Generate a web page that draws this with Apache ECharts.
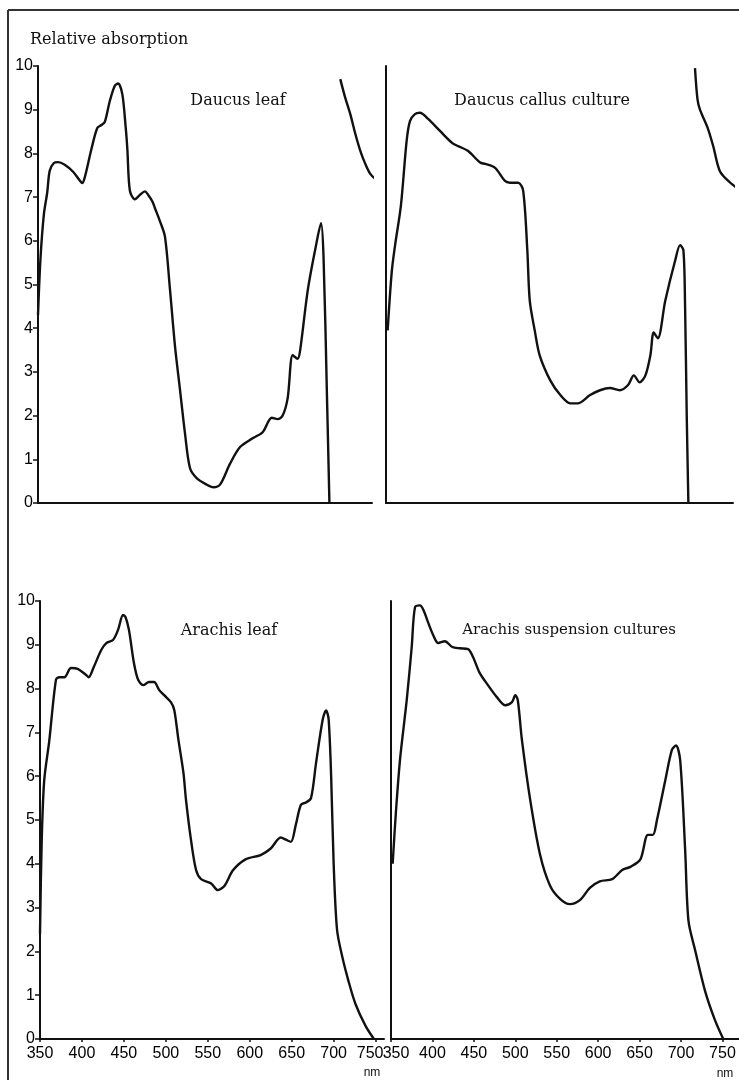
<!DOCTYPE html>
<html><head><meta charset="utf-8">
<script src="https://cdn.jsdelivr.net/npm/echarts@6/dist/echarts.min.js"></script>
<style>html,body{margin:0;padding:0;background:#fff}#c{width:739px;height:1080px}</style>
</head><body><div id="c"></div>
<script>
// ---- tick labels ----
const yTicks = [0,1,2,3,4,5,6,7,8,9,10];
const xTicks = [350,400,450,500,550,600,650,700,750];

// ---- panel titles ----
const panelTitles = ["Daucus leaf","Daucus callus culture","Arachis leaf","Arachis suspension cultures"];
const yTitle = "Relative absorption";
const xUnit = "nm";

// ---- Daucus leaf ----
const daucusLeafNm  = [350,353,357,361,364,369,374,382,392,400,403,406,414,421,426,430,436,442,446,451,455,457,460,466,472,478,482,487,490,496,502,508,514,520,526,532,540,552,560,568,580,592,607,619,630,637,643,649,655,661,664,673,682,689,692,696,699];
const daucusLeafVal = [4.3,5.6,6.6,7.1,7.6,7.78,7.8,7.74,7.58,7.38,7.32,7.45,8.1,8.58,8.65,8.72,9.2,9.55,9.6,9.35,8.6,8.1,7.15,6.95,7.05,7.13,7.05,6.9,6.75,6.45,6.1,4.9,3.6,2.6,1.6,0.8,0.57,0.42,0.36,0.42,0.9,1.28,1.48,1.62,1.95,1.92,2.0,2.4,3.38,3.3,3.5,4.86,5.8,6.4,5.6,2.5,0];
const daucusLeafTailNm  = [712,718,724,730,736,742,748,754,760,763];
const daucusLeafTailVal = [9.7,9.27,8.9,8.45,8.06,7.76,7.53,7.42,7.37,7.35];

// ---- Daucus callus culture ----
const daucusCallusNm  = [352,357,361,368,375,379,385,391,401,415,430,437,449,464,470,482,494,500,510,516,521,524,530,536,549,561,573,582,597,609,621,633,643,650,657,664,670,674,679,688,700,706,710,712,714,716];
const daucusCallusVal = [3.95,5.3,5.9,6.8,8.29,8.74,8.9,8.93,8.79,8.52,8.24,8.17,8.06,7.79,7.76,7.67,7.37,7.33,7.33,7.15,5.8,4.63,3.95,3.38,2.8,2.47,2.28,2.28,2.47,2.58,2.63,2.58,2.7,2.92,2.76,2.92,3.38,3.9,3.77,4.63,5.55,5.9,5.78,4.5,2.0,0];
const daucusCallusTailNm  = [724,727,730,739,746,754,766,777];
const daucusCallusTailVal = [9.95,9.24,9.0,8.6,8.17,7.6,7.34,7.18];

// ---- Arachis leaf ----
const arachisLeafNm  = [350,352,355,361,369,373,379,387,395,405,408,414,423,429,437,443,449,452,456,462,467,473,480,486,492,498,506,510,515,521,524,530,536,542,554,562,570,580,595,613,625,637,643,649,655,661,667,673,679,687,691,694,697,700,704,710,718,726,738,748];
const arachisLeafVal = [2.4,4.5,5.9,6.8,8.2,8.26,8.26,8.47,8.45,8.31,8.26,8.49,8.88,9.04,9.11,9.34,9.68,9.63,9.34,8.58,8.2,8.08,8.15,8.15,7.97,7.85,7.69,7.51,6.83,6.07,5.46,4.54,3.86,3.65,3.55,3.4,3.5,3.85,4.1,4.2,4.35,4.6,4.55,4.5,4.9,5.35,5.4,5.5,6.3,7.3,7.5,7.3,6.0,4.0,2.5,1.9,1.3,0.8,0.3,0];

// ---- Arachis suspension cultures ----
const arachisSuspNm  = [352,356,361,369,375,379,385,389,395,401,407,415,424,433,443,449,457,467,478,488,496,500,503,508,518,530,542,554,566,578,590,602,617,629,639,651,660,666,671,681,689,694,699,705,709,717,729,741,751];
const arachisSuspVal = [4.0,5.2,6.4,7.74,8.95,9.86,9.9,9.8,9.5,9.22,9.04,9.08,8.95,8.92,8.9,8.72,8.36,8.08,7.8,7.62,7.69,7.85,7.74,6.83,5.46,4.2,3.5,3.2,3.08,3.17,3.45,3.6,3.65,3.86,3.93,4.1,4.66,4.66,5.0,5.9,6.6,6.7,6.37,4.32,2.7,2.03,1.1,0.43,0];

// ---- build chart ----
const pairs = (xs, ys) => xs.map((x, i) => [x, ys[i]]);
const ink = '#111';
const panels = [
  {left: 38,  top: 66,  width: 334, height: 437, xmax: 750, labels: true,  xlabels: false, shift: null},
  {left: 386, top: 66,  width: 347, height: 437, xmax: 770, labels: false, xlabels: false, shift: null},
  {left: 40,  top: 601, width: 344, height: 438, xmax: 760, labels: true,  xlabels: true,  shift: {v: 750, tag: 'l'}},
  {left: 391, top: 601, width: 348, height: 438, xmax: 770, labels: false, xlabels: true,  shift: {v: 350, tag: 'r'}}
];
const tickFont = {fontFamily: 'Liberation Sans', fontSize: 16, color: '#000'};

const option = {
  animation: false,
  backgroundColor: '#fff',
  grid: panels.map(p => ({left: p.left, top: p.top, width: p.width, height: p.height})),
  xAxis: panels.map((p, i) => ({
    type: 'value', gridIndex: i, min: 350, max: p.xmax,
    axisLine: {show: true, onZero: false, lineStyle: {color: ink, width: 2}},
    axisTick: {show: p.xlabels, customValues: xTicks, length: 3, lineStyle: {color: ink, width: 1.5}},
    axisLabel: {
      show: p.xlabels, customValues: xTicks, margin: 7, ...tickFont,
      formatter: v => (p.shift && v === p.shift.v) ? '{' + p.shift.tag + '|' + v + '}' : String(v),
      rich: {
        l: {...tickFont, padding: [0, 11, 0, 0]},
        r: {...tickFont, padding: [0, 0, 0, 10]}
      }
    },
    splitLine: {show: false}
  })),
  yAxis: panels.map((p, i) => ({
    type: 'value', gridIndex: i, min: 0, max: 10, interval: 1,
    axisLine: {show: true, onZero: false, lineStyle: {color: ink, width: 2}},
    axisTick: {show: p.labels, length: 5, lineStyle: {color: ink, width: 1.5}},
    axisLabel: {show: p.labels, margin: 5, ...tickFont},
    splitLine: {show: false}
  })),
  series: [
    [daucusLeafNm, daucusLeafVal, 0],
    [daucusLeafTailNm, daucusLeafTailVal, 0],
    [daucusCallusNm, daucusCallusVal, 1],
    [daucusCallusTailNm, daucusCallusTailVal, 1],
    [arachisLeafNm, arachisLeafVal, 2],
    [arachisSuspNm, arachisSuspVal, 3]
  ].map(([xs, ys, g]) => ({
    type: 'line', xAxisIndex: g, yAxisIndex: g, data: pairs(xs, ys),
    smooth: 0.3, showSymbol: false, clip: false,
    lineStyle: {color: ink, width: 2.4}
  })),
  graphic: [
    {type: 'line', shape: {x1: 8, y1: 10, x2: 739, y2: 10}, style: {stroke: '#333', lineWidth: 2}},
    {type: 'line', shape: {x1: 8, y1: 10, x2: 8, y2: 1080}, style: {stroke: '#333', lineWidth: 2}},
    {type: 'text', x: 30, y: 40, style: {text: yTitle, font: '16px "DejaVu Serif"', fill: ink, verticalAlign: 'middle'}},
    {type: 'text', x: 238, y: 101, style: {text: panelTitles[0], font: '16px "DejaVu Serif"', fill: ink, align: 'center', verticalAlign: 'middle'}},
    {type: 'text', x: 542, y: 101, style: {text: panelTitles[1], font: '16px "DejaVu Serif"', fill: ink, align: 'center', verticalAlign: 'middle'}},
    {type: 'text', x: 229, y: 631, style: {text: panelTitles[2], font: '16px "DejaVu Serif"', fill: ink, align: 'center', verticalAlign: 'middle'}},
    {type: 'text', x: 569, y: 630, style: {text: panelTitles[3], font: '15px "DejaVu Serif"', fill: ink, align: 'center', verticalAlign: 'middle'}},
    {type: 'text', x: 372, y: 1073, style: {text: xUnit, font: '12px "Liberation Sans"', fill: ink, align: 'center', verticalAlign: 'middle'}},
    {type: 'text', x: 725, y: 1074, style: {text: xUnit, font: '12px "Liberation Sans"', fill: ink, align: 'center', verticalAlign: 'middle'}}
  ]
};
echarts.init(document.getElementById('c'), null, {renderer: 'canvas'}).setOption(option);
</script>
</body></html>
